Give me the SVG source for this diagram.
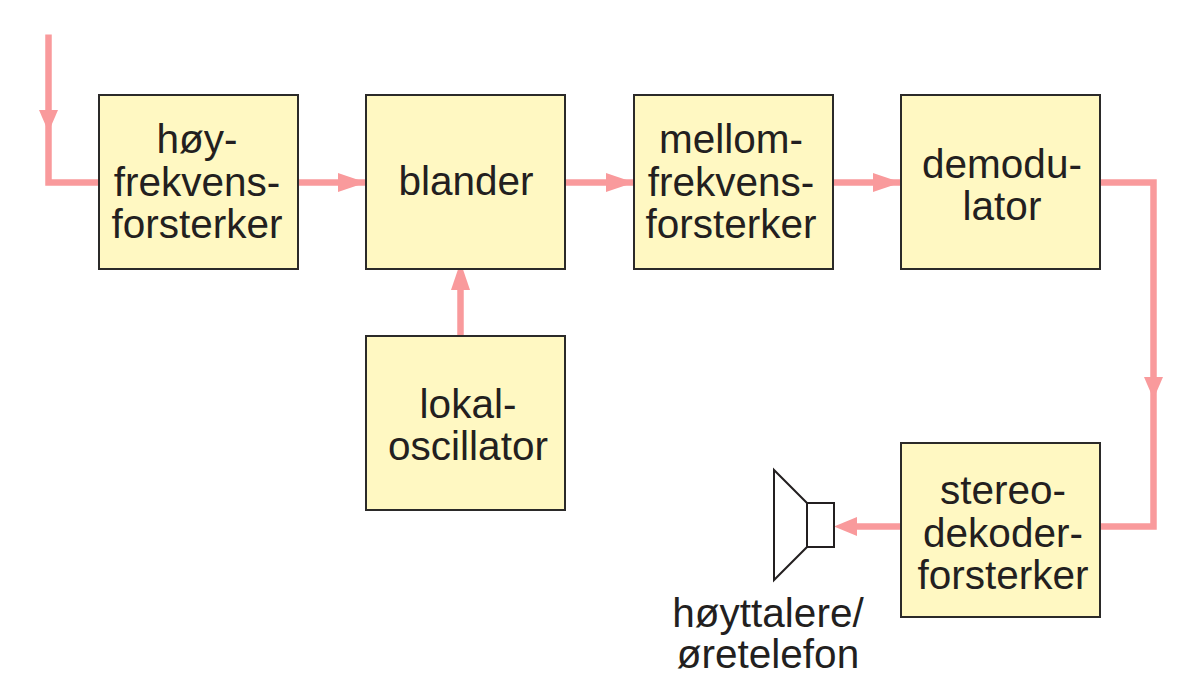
<svg xmlns="http://www.w3.org/2000/svg" width="1200" height="699" viewBox="0 0 1200 699">
  <style>
    .box { fill: #fff8c2; stroke: #2b2a29; stroke-width: 2; }
    .wire { fill: none; stroke: #f99a9c; stroke-width: 6.5; }
    .head { fill: #f99a9c; }
    .spk { fill: #fff; stroke: #231f20; stroke-width: 2; stroke-linejoin: miter; }
    text { font-family: "Liberation Sans", Arial, sans-serif; font-size: 40.5px; fill: #231f20; text-anchor: middle; }
  </style>
  <rect width="1200" height="699" fill="#fff"/>

  <g id="connectors">
    <path class="wire" d="M48.500 34.500V182.500H99"/>
    <polygon class="head" points="39,110 58,110 48.500,132"/>
    <path class="wire" d="M298 182.500H366"/>
    <polygon class="head" points="338,173 338,192 366,182.500"/>
    <path class="wire" d="M566 182.500H634"/>
    <polygon class="head" points="606,173 606,192 634,182.500"/>
    <path class="wire" d="M833 182.500H901"/>
    <polygon class="head" points="873,173 873,192 901,182.500"/>
    <path class="wire" d="M460.500 336V285"/>
    <polygon class="head" points="451,290 470,290 460.500,262"/>
    <path class="wire" d="M1101 182.500H1153.500V526.500H1101"/>
    <polygon class="head" points="1144,377 1163,377 1153.500,399"/>
    <path class="wire" d="M901 526.500H855"/>
    <polygon class="head" points="834,526.500 857,517 857,536"/>
  </g>

  <g id="hoyfrekvensforsterker">
    <rect class="box" x="99" y="95" width="199" height="174"/>
    <text x="197" y="153">høy-</text>
    <text x="197" y="196">frekvens-</text>
    <text x="197" y="238">forsterker</text>
  </g>
  <g id="blander">
    <rect class="box" x="366" y="95" width="199" height="174"/>
    <text x="466" y="195">blander</text>
  </g>
  <g id="mellomfrekvensforsterker">
    <rect class="box" x="634" y="95" width="199" height="174"/>
    <text x="731" y="153">mellom-</text>
    <text x="731" y="196">frekvens-</text>
    <text x="731" y="238">forsterker</text>
  </g>
  <g id="demodulator">
    <rect class="box" x="901" y="95" width="199" height="174"/>
    <text x="1002" y="178">demodu-</text>
    <text x="1002" y="220">lator</text>
  </g>
  <g id="lokaloscillator">
    <rect class="box" x="366" y="336" width="199" height="174"/>
    <text x="468" y="418">lokal-</text>
    <text x="468" y="460">oscillator</text>
  </g>
  <g id="stereodekoderforsterker">
    <rect class="box" x="901" y="443" width="199" height="174"/>
    <text x="1003" y="504">stereo-</text>
    <text x="1003" y="547">dekoder-</text>
    <text x="1003" y="589">forsterker</text>
  </g>
  <g id="hoyttalere">
    <polygon class="spk" points="807,503 774,470 774,580 807,547"/>
    <rect class="spk" x="807" y="503" width="27" height="44"/>
    <text x="768" y="627">høyttalere/</text>
    <text x="768" y="668">øretelefon</text>
  </g>
</svg>
